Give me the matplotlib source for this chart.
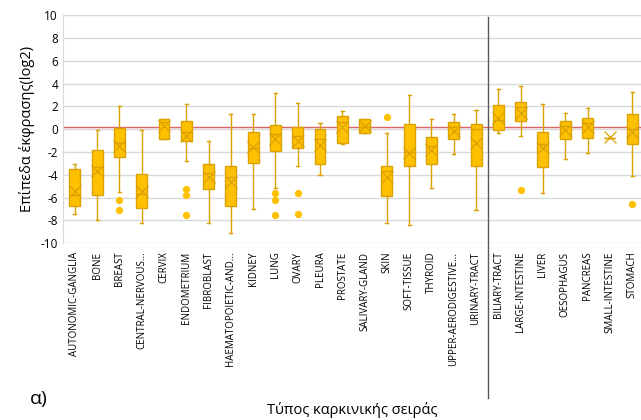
import numpy as np
import matplotlib
matplotlib.use("Agg")
import matplotlib.pyplot as plt

plt.rcParams["axes.unicode_minus"] = False

categories = ["AUTONOMIC-GANGLIA", "BONE", "BREAST", "CENTRAL-NERVOUS...", "CERVIX",
              "ENDOMETRIUM", "FIBROBLAST", "HAEMATOPOIETIC-AND...", "KIDNEY", "LUNG",
              "OVARY", "PLEURA", "PROSTATE", "SALIVARY-GLAND", "SKIN", "SOFT-TISSUE",
              "THYROID", "UPPER-AERODIGESTIVE...", "URINARY-TRACT", "BILIARY-TRACT",
              "LARGE-INTESTINE", "LIVER", "OESOPHAGUS", "PANCREAS", "SMALL-INTESTINE",
              "STOMACH"]

whis_lo = [-7.4, -7.98, -5.5, -8.19, -0.82, -2.8, -8.27, -9.15, -6.96, -5.2,
           -3.25, -4.04, -1.32, -0.32, -8.27, -8.42, -5.12, -2.22, -7.13, -0.38,
           -0.61, -5.64, -2.6, -2.05, -0.75, -4.1]
q1 = [-6.75, -5.79, -2.43, -6.9, -0.82, -1.02, -5.29, -6.75, -3.0, -1.93,
      -1.64, -3.07, -1.2, -0.32, -5.82, -3.25, -3.07, -0.88, -3.22, -0.09,
      0.73, -3.3, -0.82, -0.76, -0.75, -1.26]
median = [-5.8, -3.3, -1.2, -5.65, 0.64, -0.23, -3.83, -4.18, -1.61, -0.44,
          -0.58, -0.88, 0.64, 0.2, -3.65, -2.0, -1.49, 0.2, 0.0, 0.79,
          1.9, -1.3, 0.26, 0.5, -0.75, 0.0]
q3 = [-3.51, -1.84, 0.06, -3.89, 0.9, 0.7, -3.07, -3.25, -0.23, 0.35,
      0.15, -0.03, 1.17, 0.88, -3.19, 0.41, -0.7, 0.67, 0.41, 2.08,
      2.37, -0.23, 0.7, 0.99, -0.75, 1.29]
whis_hi = [-3.07, -0.09, 2.05, -0.05, 0.9, 2.2, -1.0, 1.32, 1.32, 3.13,
           2.31, 0.56, 1.61, 0.88, -0.38, 3.01, 0.85, 1.29, 1.64, 3.51,
           3.77, 2.22, 1.46, 1.84, -0.75, 3.22]
mean = [-5.41, -3.65, -1.49, -5.44, 0.26, -0.61, -4.18, -4.62, -1.6, -0.82,
        -1.02, -1.4, 0.2, 0.26, -4.18, -2.1, -1.84, -0.15, -1.2, 1.02,
        1.46, -1.61, -0.09, 0.2, -0.73, -0.23]
outliers = {2: [-6.23, -7.13], 5: [-5.26, -5.79, -7.5], 9: [-5.58, -6.17, -7.51],
            10: [-5.64, -7.4], 14: [1.05], 20: [-5.38], 25: [-6.55]}

threshold = 0.23

gold = "#FFC000"
dark = "#D9A200"

stats = []
for i, name in enumerate(categories):
    stats.append(dict(label=name, whislo=whis_lo[i], q1=q1[i], med=median[i],
                      q3=q3[i], whishi=whis_hi[i], mean=mean[i],
                      fliers=outliers.get(i, [])))

fig = plt.figure(figsize=(6.41, 4.20), dpi=100)
ax = fig.add_axes([0.098, 0.421, 0.902, 0.543])

pos = np.arange(len(categories))
ax.bxp(stats, positions=pos, widths=0.49, showmeans=True, patch_artist=True,
       boxprops=dict(facecolor=gold, edgecolor=dark, linewidth=1.0),
       medianprops=dict(color=dark, linewidth=1.0),
       whiskerprops=dict(color=dark, linewidth=1.0),
       capprops=dict(color=dark, linewidth=1.0),
       capwidths=0.14,
       meanprops=dict(marker="x", markeredgecolor=dark, markersize=8,
                      markeredgewidth=0.9),
       flierprops=dict(marker="o", markerfacecolor=gold, markeredgecolor=gold,
                       markersize=4.2))

# threshold line and group separator
ax.axhline(threshold, color="#E06666", linewidth=1.0, zorder=1)
ax.plot([18.55, 18.55], [9.85, -23.6], color="#595959", linewidth=1.0, clip_on=False)

ax.set_ylim(-10, 10)
ax.set_xlim(-0.54, 25.4)
ax.set_yticks(np.arange(-10, 11, 2))
ax.grid(axis="y", color="#D9D9D9", linewidth=1.0)
ax.set_axisbelow(True)
for s in ["top", "right", "bottom"]:
    ax.spines[s].set_visible(False)
ax.spines["left"].set_color("#D9D9D9")
ax.tick_params(length=0)
ax.set_xticks(pos)
ax.set_xticklabels(categories, rotation=90, fontsize=7, family="Open Sans", color="#000000")
for lab in ax.get_yticklabels():
    lab.set_fontsize(8.5)
    lab.set_family("Open Sans")
ax.tick_params(axis="x", pad=6)

ax.set_ylabel("Επίπεδα έκφρασης(log2)", fontsize=10.5, family="Open Sans")
fig.text(0.55, 0.025, "Τύπος καρκινικής σειράς", ha="center", va="center",
         fontsize=10.5, family="Open Sans")
fig.text(0.06, 0.05, "α)", ha="center", va="center", fontsize=14, family="Open Sans")

fig.savefig("out.png", dpi=100)
